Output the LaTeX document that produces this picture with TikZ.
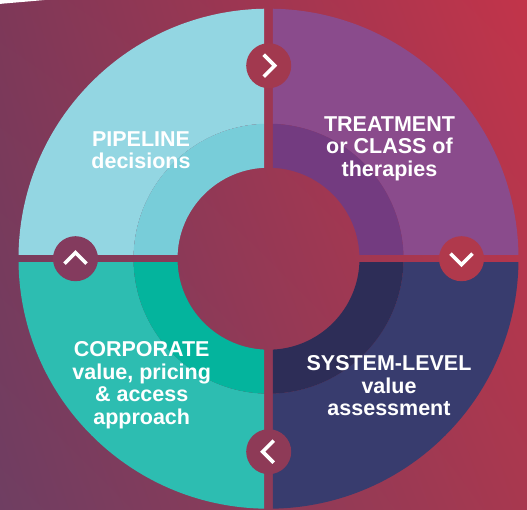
\documentclass[tikz,border=0pt]{standalone}
\usepackage{fontspec}
\setmainfont{Liberation Sans}
\usetikzlibrary{shapes,shadings}

\definecolor{bgul}{HTML}{7E3858}
\definecolor{bgur}{HTML}{C2344A}
\definecolor{bgll}{HTML}{6F3E62}
\definecolor{bglr}{HTML}{A8384F}
\definecolor{pipeout}{HTML}{93D6E2}
\definecolor{pipemid}{HTML}{78CDD9}
\definecolor{treatout}{HTML}{8A4B8C}
\definecolor{treatmid}{HTML}{733B80}
\definecolor{sysout}{HTML}{383C6E}
\definecolor{sysmid}{HTML}{2D2D57}
\definecolor{corpout}{HTML}{2DBDB1}
\definecolor{corpmid}{HTML}{04B49D}
\definecolor{turnN}{HTML}{A2394F}
\definecolor{turnE}{HTML}{B0394C}
\definecolor{turnS}{HTML}{8E3A57}
\definecolor{turnW}{HTML}{843B5E}

\begin{document}
\begin{tikzpicture}[x=1pt,y=1pt,
    quad text/.style={text=white,font=\bfseries\fontsize{21.5}{22.5}\selectfont,align=center},
    turn/.style={circle,minimum size=45pt,inner sep=0pt},
    chevron/.style={white,line width=3.6pt}]
  \def\ringout{250}
  \def\ringmid{135}
  \def\ringin{91}
  \def\slit{4.3}
  \def\hop{193}

  % background
  \useasboundingbox (-268.5,-251.3) rectangle (258.5,258.7);
  \shade[upper left=bgul,upper right=bgur,lower left=bgll,lower right=bglr]
    (-268.5,-251.3) rectangle (258.5,258.7);
  \fill[white] (-268.5,258.7) -- (-224,258.7) .. controls (-242,257) and (-256,256) .. (-268.5,254.8) -- cycle;

  % quadrants
  \foreach \sx/\sy/\outcol/\midcol in {-1/1/pipeout/pipemid, 1/1/treatout/treatmid,
                                     1/-1/sysout/sysmid, -1/-1/corpout/corpmid} {
    \begin{scope}
      \clip (\sx*\slit,\sy*\slit) rectangle (\sx*260,\sy*260);
      \fill[\outcol,even odd rule] (0,0) circle (\ringout) (0,0) circle (\ringmid);
      \fill[\midcol,even odd rule] (0,0) circle (\ringmid) (0,0) circle (\ringin);
    \end{scope}
  }

  % turning points
  \node[turn,fill=turnN] (tn) at (0.2,\hop) {};
  \node[turn,fill=turnE] (te) at (\hop,0) {};
  \node[turn,fill=turnS] (ts) at (0.2,-\hop) {};
  \node[turn,fill=turnW] (tw) at (-\hop,0) {};
  \foreach \n/\a in {tn/0, te/-90, ts/180, tw/90}
    \draw[chevron,shift={(\n.center)},rotate=\a] (-5,11) -- (6,0) -- (-5,-11);

  % labels
  \node[quad text] (pipeline) at (-127.5,108.5) {PIPELINE\\decisions};
  \node[quad text] (treatment) at (121,110) {TREATMENT\\or CLASS of\\therapies};
  \node[quad text] (system) at (120.5,-127) {SYSTEM-LEVEL\\value\\assessment};
  \node[quad text] (corporate) at (-126.8,-126.3) {CORPORATE\\value, pricing\\\& access\\approach};
\end{tikzpicture}
\end{document}
